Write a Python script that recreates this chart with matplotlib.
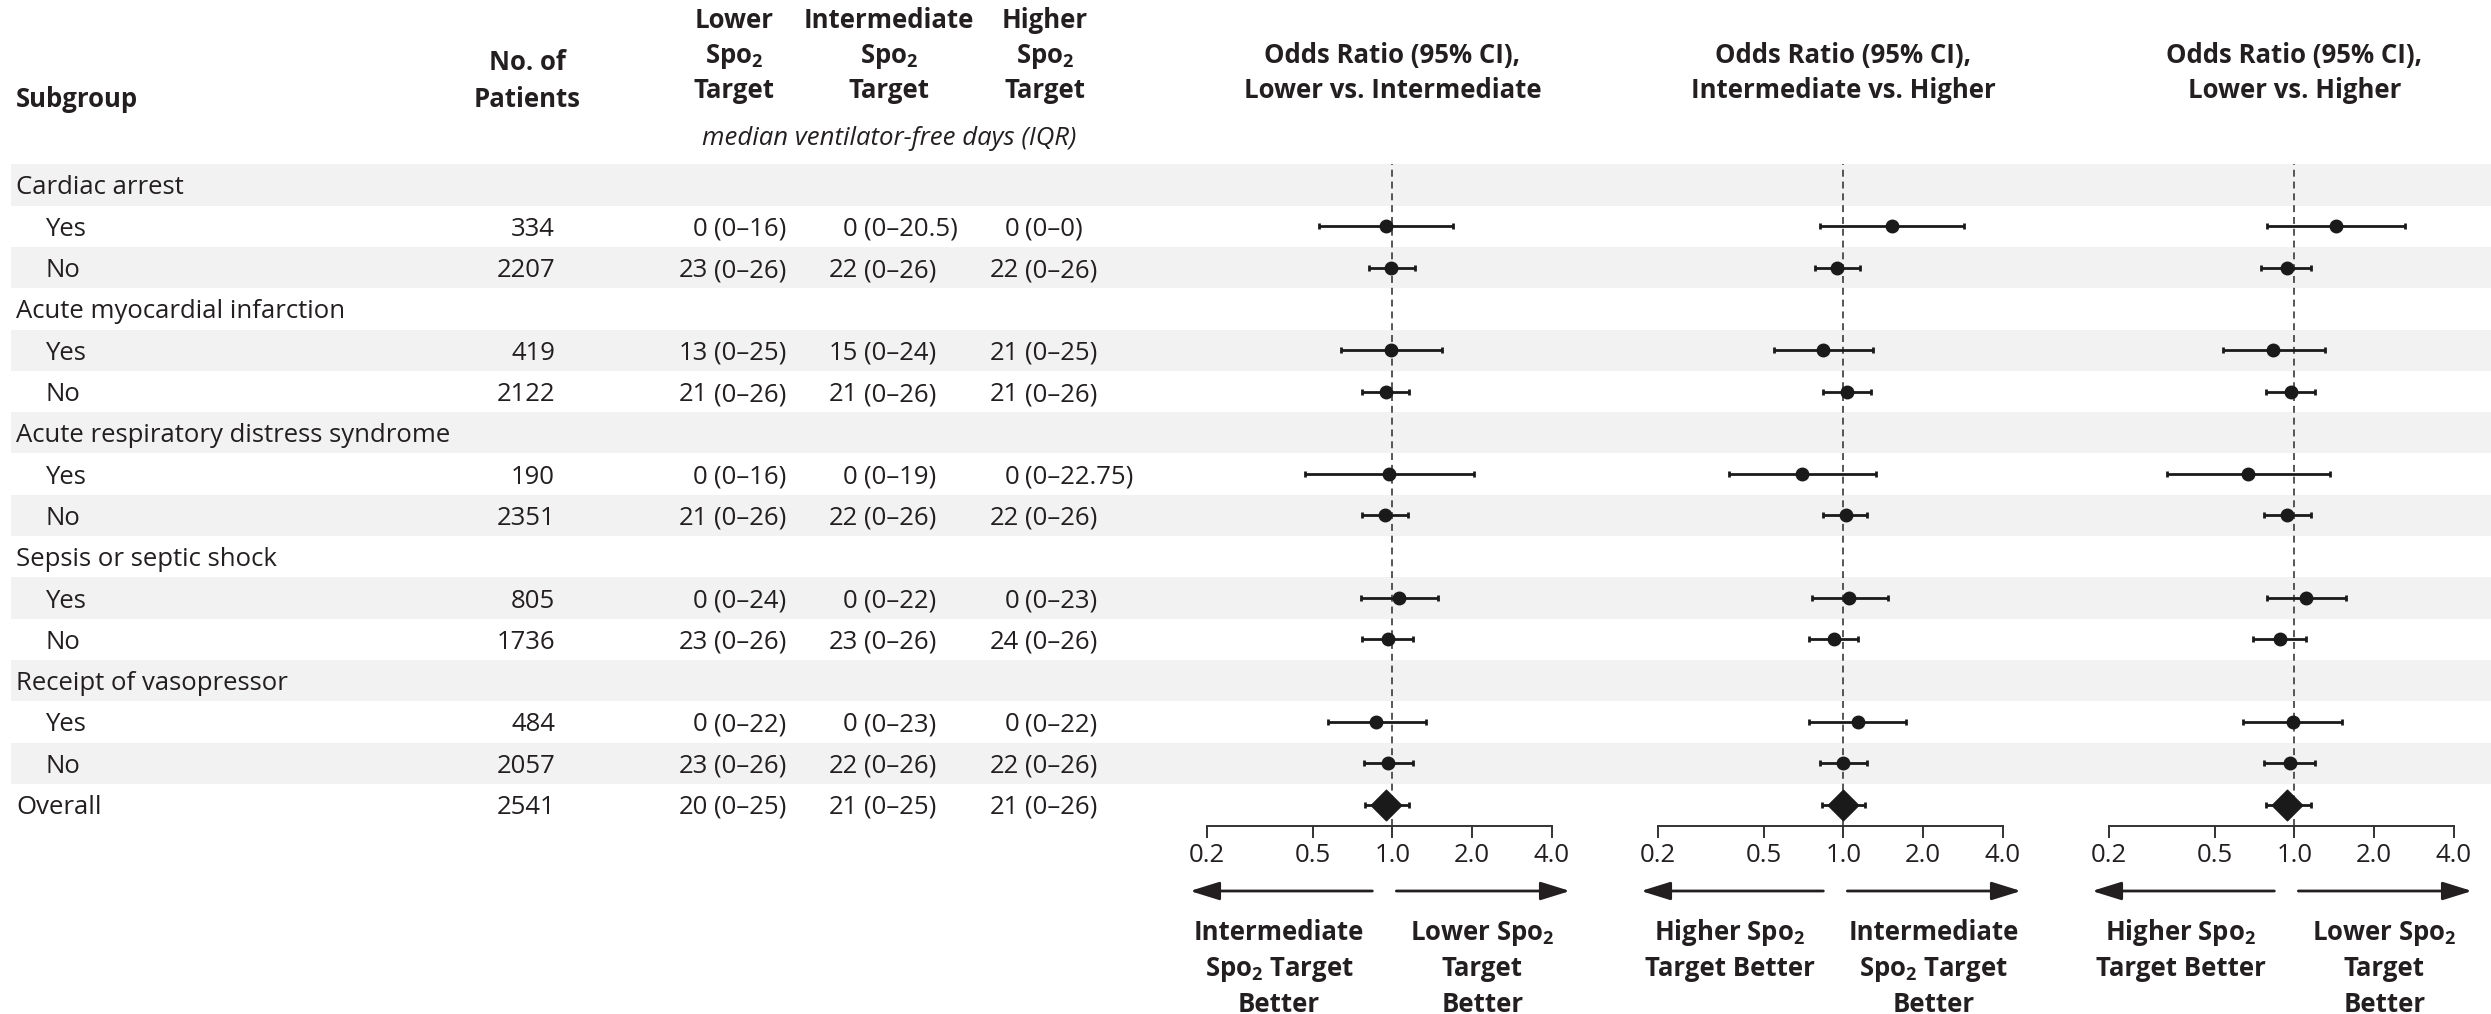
import matplotlib
matplotlib.use('Agg')
import numpy as np
import matplotlib.pyplot as plt
from matplotlib import font_manager
from matplotlib.ticker import NullLocator

# ---- table data ----
subgroups = ['Cardiac arrest', 'Yes', 'No',
             'Acute myocardial infarction', 'Yes', 'No',
             'Acute respiratory distress syndrome', 'Yes', 'No',
             'Sepsis or septic shock', 'Yes', 'No',
             'Receipt of vasopressor', 'Yes', 'No',
             'Overall']
patients = ['', '334', '2207', '', '419', '2122', '', '190', '2351',
            '', '805', '1736', '', '484', '2057', '2541']
lower = ['', '0 (0–16)', '23 (0–26)', '', '13 (0–25)', '21 (0–26)', '', '0 (0–16)', '21 (0–26)',
         '', '0 (0–24)', '23 (0–26)', '', '0 (0–22)', '23 (0–26)', '20 (0–25)']
intermediate = ['', '0 (0–20.5)', '22 (0–26)', '', '15 (0–24)', '21 (0–26)', '', '0 (0–19)', '22 (0–26)',
                '', '0 (0–22)', '23 (0–26)', '', '0 (0–23)', '22 (0–26)', '21 (0–25)']
higher = ['', '0 (0–0)', '22 (0–26)', '', '21 (0–25)', '21 (0–26)', '', '0 (0–22.75)', '22 (0–26)',
          '', '0 (0–23)', '24 (0–26)', '', '0 (0–22)', '22 (0–26)', '21 (0–26)']

# rows that carry an odds ratio (last one is Overall)
or_rows = [1, 2, 4, 5, 7, 8, 10, 11, 13, 14, 15]

# lower vs intermediate
or1 = [0.95, 0.99, 0.99, 0.95, 0.97, 0.94, 1.06, 0.96, 0.87, 0.96, 0.95]
lo1 = [0.53, 0.82, 0.64, 0.77, 0.47, 0.77, 0.76, 0.77, 0.57, 0.78, 0.79]
hi1 = [1.69, 1.22, 1.54, 1.16, 2.04, 1.15, 1.49, 1.20, 1.34, 1.20, 1.16]
# intermediate vs higher
or2 = [1.52, 0.95, 0.84, 1.03, 0.70, 1.02, 1.05, 0.92, 1.14, 1.00, 1.00]
lo2 = [0.82, 0.78, 0.55, 0.84, 0.37, 0.84, 0.76, 0.74, 0.74, 0.82, 0.83]
hi2 = [2.84, 1.16, 1.29, 1.27, 1.33, 1.23, 1.48, 1.14, 1.73, 1.23, 1.21]
# lower vs higher
or3 = [1.44, 0.94, 0.83, 0.97, 0.67, 0.94, 1.11, 0.88, 0.99, 0.96, 0.94]
lo3 = [0.79, 0.75, 0.54, 0.78, 0.33, 0.77, 0.79, 0.70, 0.64, 0.77, 0.78]
hi3 = [2.61, 1.16, 1.30, 1.20, 1.36, 1.16, 1.57, 1.11, 1.51, 1.20, 1.16]

xticks = [0.2, 0.5, 1.0, 2.0, 4.0]
xtick_labels = ['0.2', '0.5', '1.0', '2.0', '4.0']

# ---- fonts ----
installed = {f.name for f in font_manager.fontManager.ttflist}
FONT = next((f for f in ['Open Sans', 'Lato', 'Liberation Sans'] if f in installed), 'DejaVu Sans')
plt.rcParams['font.family'] = [FONT, 'DejaVu Sans']
plt.rcParams['mathtext.fontset'] = 'custom'
plt.rcParams['mathtext.rm'] = FONT
plt.rcParams['mathtext.bf'] = FONT + ':bold'
plt.rcParams['mathtext.it'] = FONT + ':italic'
plt.rcParams['lines.scale_dashes'] = False

SPO2 = r'Sp$\mathbf{o}_\mathbf{2}$'
FS = 18.5
TXT = '#231f20'
INK = '#1a1a1a'

W, H = 2491, 1014
fig = plt.figure(figsize=(W / 100, H / 100), dpi=100)

# background axes in pixel units, y pointing down
bg = fig.add_axes([0, 0, 1, 1])
bg.set_xlim(0, W)
bg.set_ylim(H, 0)
bg.axis('off')

ROW0, ROWH = 185, 41.3
BL = 9.5  # baseline offset from row centre
row_y = [ROW0 + ROWH * i for i in range(len(subgroups))]

# zebra bands
for i, y in enumerate(row_y):
    if i % 2 == 0:
        bg.axhspan(y - ROWH / 2, y + ROWH / 2, xmin=11 / W, xmax=1, color='#f2f2f2', lw=0, zorder=0)

# column headers
bg.text(16, 107, 'Subgroup', fontsize=FS, weight='bold', color=TXT)
bg.text(527, 70, 'No. of', fontsize=FS, weight='bold', ha='center', color=TXT)
bg.text(527, 107, 'Patients', fontsize=FS, weight='bold', ha='center', color=TXT)
for cx, name in [(734, 'Lower'), (889, 'Intermediate'), (1045, 'Higher')]:
    bg.text(cx, 28, name, fontsize=FS, weight='bold', ha='center', color=TXT)
    bg.text(cx, 63, SPO2, fontsize=FS, weight='bold', ha='center', color=TXT)
    bg.text(cx, 98, 'Target', fontsize=FS, weight='bold', ha='center', color=TXT)
bg.text(889, 145, 'median ventilator-free days (IQR)', fontsize=FS, style='italic',
        ha='center', color=TXT)

# table body
for i, y in enumerate(row_y):
    name = subgroups[i]
    x = 45 if name in ('Yes', 'No') else 16
    bg.text(x, y + BL, name, fontsize=FS, color=TXT)
    if patients[i]:
        bg.text(555, y + BL, patients[i], fontsize=FS, ha='right', color=TXT)
    for px, col in [(714, lower), (864, intermediate), (1025, higher)]:
        if col[i]:
            med, iqr = col[i].split(' ', 1)
            bg.text(px - 6, y + BL, med, fontsize=FS, ha='right', color=TXT)
            bg.text(px, y + BL, iqr, fontsize=FS, ha='left', color=TXT)

# ---- forest panels ----
panels = [
    (1207, 'Lower vs. Intermediate', or1, lo1, hi1,
     ['Intermediate', SPO2 + ' Target', 'Better'], ['Lower ' + SPO2, 'Target', 'Better']),
    (1658, 'Intermediate vs. Higher', or2, lo2, hi2,
     ['Higher ' + SPO2, 'Target Better'], ['Intermediate', SPO2 + ' Target', 'Better']),
    (2109, 'Lower vs. Higher', or3, lo3, hi3,
     ['Higher ' + SPO2, 'Target Better'], ['Lower ' + SPO2, 'Target', 'Better']),
]
PW = 345
top_px = ROW0 - ROWH / 2
axis_px = 826
diamond = [(-1, 0), (0, 1), (1, 0), (0, -1), (-1, 0)]

for left, title, est, lo, hi, left_lbl, right_lbl in panels:
    ax = fig.add_axes([left / W, (H - axis_px) / H, PW / W, (axis_px - top_px) / H])
    ax.patch.set_alpha(0)
    ax.set_xscale('log')
    ax.set_xlim(0.2, 4.0)
    ax.set_ylim((axis_px - ROW0) / ROWH, -0.5)

    est = np.array(est)
    err = np.array([est - np.array(lo), np.array(hi) - est])

    ax.axvline(1.0, color='#3a3a3a', lw=1.2, ls=(0, (5, 3.5)), zorder=1)
    ax.errorbar(est[:-1], or_rows[:-1], xerr=err[:, :-1], fmt='o', ms=9, color=INK,
                elinewidth=2.0, capsize=2.4, capthick=2.0, zorder=3)
    ax.errorbar(est[-1:], or_rows[-1:], xerr=err[:, -1:], fmt='none', ecolor=INK,
                elinewidth=2.0, capsize=2.4, capthick=2.0, zorder=3)
    ax.plot(est[-1:], or_rows[-1:], marker=diamond, ms=22, color=INK, lw=0, zorder=4)

    ax.set_xticks(xticks)
    ax.set_xticklabels(xtick_labels)
    ax.xaxis.set_minor_locator(NullLocator())
    ax.set_yticks([])
    ax.tick_params(axis='x', length=8.6, width=1.4, color='#333333', labelsize=FS,
                   labelcolor=TXT, pad=4)
    for s in ['top', 'left', 'right']:
        ax.spines[s].set_visible(False)
    ax.spines['bottom'].set_linewidth(1.4)
    ax.spines['bottom'].set_color('#333333')

    # pixel position of OR = 1
    one_px = left + PW * np.log(1 / 0.2) / np.log(4.0 / 0.2)

    bg.text(one_px, 63, 'Odds Ratio (95% CI),', fontsize=FS, weight='bold', ha='center', color=TXT)
    bg.text(one_px, 98, title, fontsize=FS, weight='bold', ha='center', color=TXT)

    # direction arrows
    arrow = dict(arrowstyle='-|>,head_length=0.9,head_width=0.28', lw=2, color=TXT,
                 shrinkA=0, shrinkB=0, mutation_scale=20)
    bg.annotate('', xy=(left - 17, 891), xytext=(one_px - 20, 891), arrowprops=arrow)
    bg.annotate('', xy=(left + PW + 18, 891), xytext=(one_px + 4, 891), arrowprops=arrow)

    for j, line in enumerate(left_lbl):
        bg.text(left + 72, 940 + 36 * j, line, fontsize=FS, weight='bold', ha='center', color=TXT)
    for j, line in enumerate(right_lbl):
        bg.text(one_px + 90, 940 + 36 * j, line, fontsize=FS, weight='bold', ha='center', color=TXT)

fig.savefig('out.png', dpi=100)
